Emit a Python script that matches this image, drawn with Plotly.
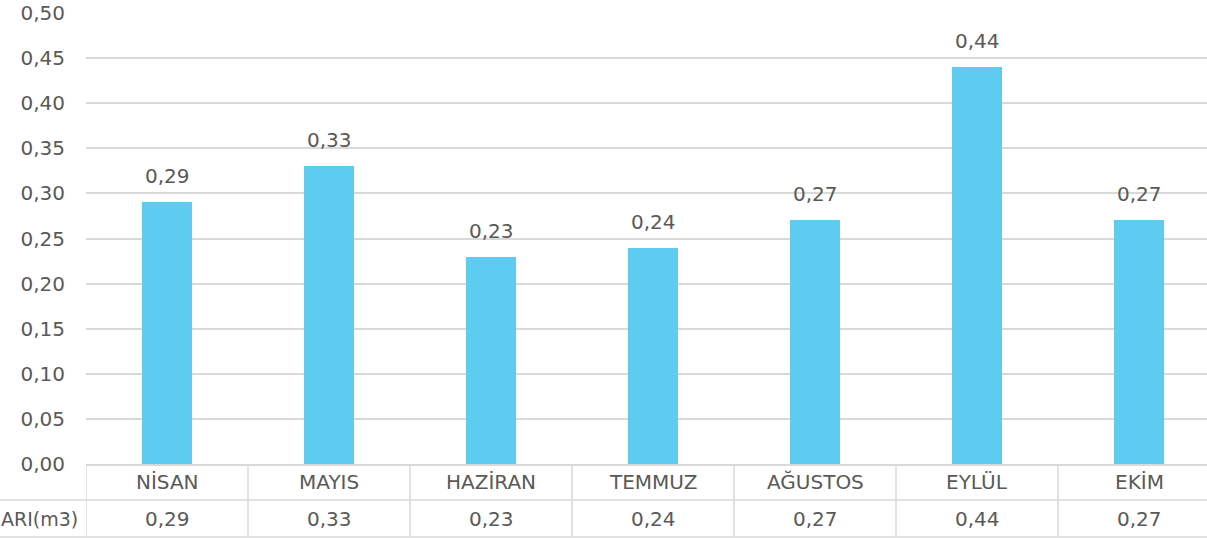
import plotly.graph_objects as go

months = ["NİSAN", "MAYIS", "HAZİRAN", "TEMMUZ", "AĞUSTOS", "EYLÜL", "EKİM"]
values = [0.29, 0.33, 0.23, 0.24, 0.27, 0.44, 0.27]
row_label = "ARI(m3)"
y_ticks = [0.0, 0.05, 0.10, 0.15, 0.20, 0.25, 0.30, 0.35, 0.40, 0.45, 0.50]

BAR = "#5ECBF0"
GRID = "#D9D9D9"
TXT = "#595959"
FONT = "DejaVu Sans"

W, H = 1207, 538
ML, MT, MB = 86, 13, 74
PW = W - ML
PH = H - MT - MB
cat_px = 162.0
xr = [-0.5, -0.5 + PW / cat_px]

def py(pix):
    # pixel row -> paper y
    return (H - MB - pix) / PH

def px(pix):
    return (pix - ML) / PW

fig = go.Figure()
fig.add_trace(go.Bar(x=list(range(len(months))), y=values, width=0.31,
                     marker=dict(color=BAR, line=dict(width=0)), hoverinfo="skip"))

ann = []
for i, (m, v) in enumerate(zip(months, values)):
    ann.append(dict(x=i, y=v, xref="x", yref="y", text=f"{v:.2f}".replace(".", ","),
                    showarrow=False, yanchor="middle", yshift=26,
                    font=dict(family=FONT, size=20, color=TXT)))
    ann.append(dict(x=i, y=py(482), xref="x", yref="paper", text=m, showarrow=False,
                    yanchor="middle", font=dict(family=FONT, size=20, color=TXT)))
    ann.append(dict(x=i, y=py(519), xref="x", yref="paper", text=f"{v:.2f}".replace(".", ","),
                    showarrow=False, yanchor="middle", font=dict(family=FONT, size=20, color=TXT)))
ann.append(dict(x=px(80), y=py(519), xref="paper", yref="paper", text=row_label, showarrow=False,
                xanchor="right", yanchor="middle", font=dict(family=FONT, size=19, color=TXT)))

shapes = []
lw = 1.5
# horizontal table lines
for yy in (500, 537):
    shapes.append(dict(type="line", xref="paper", yref="paper", x0=px(0), x1=1.0,
                       y0=py(yy), y1=py(yy), line=dict(color=GRID, width=lw)))
# vertical table lines
for k in range(len(months)):
    shapes.append(dict(type="line", xref="x", yref="paper", x0=k - 0.5, x1=k - 0.5,
                       y0=py(464), y1=py(537), line=dict(color=GRID, width=lw)))

fig.update_layout(
    width=W, height=H,
    margin=dict(l=ML, r=0, t=MT, b=MB, pad=0, autoexpand=False),
    paper_bgcolor="white", plot_bgcolor="white",
    separators=",.",
    showlegend=False,
    bargap=0,
    annotations=ann,
    shapes=shapes,
    xaxis=dict(range=xr, showticklabels=False, showgrid=False, zeroline=False,
               showline=True, linecolor=GRID, linewidth=lw, ticks="", automargin=False),
    yaxis=dict(range=[0, 0.5], tickvals=y_ticks, tickformat=".2f",
               showgrid=True, gridcolor=GRID, gridwidth=lw, zeroline=False,
               showline=False, ticks="", ticklabelstandoff=20, automargin=False,
               tickfont=dict(family=FONT, size=20, color=TXT)),
)

fig.write_html("out.html", config={"displayModeBar": False},
               post_script="document.body.style.margin='0';document.body.style.overflow='hidden';")
